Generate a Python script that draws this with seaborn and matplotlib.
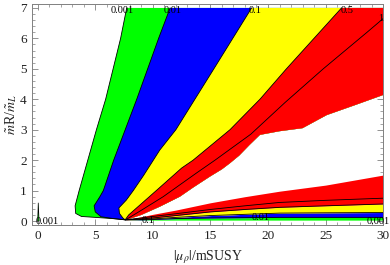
import numpy as np
import pandas as pd
import seaborn as sns
import matplotlib.pyplot as plt

# upper wedge contours (x = |mu_rho|/mSUSY, y = mR/mL)
c0001_x = [7.58, 6.5, 5.0, 3.8, 3.3, 3.25, 3.6, 4.35, 5.1, 5.9, 6.55, 7.2, 7.73]
c0001_y = [0.04, 0.08, 0.12, 0.15, 0.25, 0.5, 1.0, 2.0, 3.0, 4.0, 5.0, 6.0, 7.0]
c001_x = [7.58, 6.6, 5.5, 5.0, 4.9, 5.4, 5.7, 6.6, 7.6, 8.6, 9.55, 10.5, 11.5]
c001_y = [0.04, 0.08, 0.14, 0.3, 0.5, 0.8, 1.0, 2.0, 3.0, 4.0, 5.0, 6.0, 7.0]
c01_x = [7.58, 7.4, 7.1, 7.05, 7.7, 8.3, 9.2, 10.6, 12.0, 15.3, 18.58]
c01_y = [0.04, 0.1, 0.25, 0.43, 0.69, 1.0, 1.5, 2.33, 3.0, 5.0, 7.0]
c05_x = [7.6, 7.9, 8.8, 10.3, 12.5, 13.5, 16.7, 19.3, 21.6, 26.39]
c05_y = [0.04, 0.2, 0.5, 1.0, 1.74, 2.0, 3.0, 4.0, 5.0, 7.0]
c1_x = [7.6, 7.9, 9.2, 10.9, 13.8, 15.4, 18.5, 21.5, 24.8, 28.6, 30.0]
c1_y = [0.04, 0.1, 0.4, 0.8, 1.58, 2.0, 2.85, 3.9, 5.0, 6.2, 6.65]
# ragged lower edge of the upper red band
edge_x = [7.8, 9.0, 10.6, 12.35, 13.5, 14.96, 16.0, 16.7, 17.5, 18.4, 19.3, 21.0, 23.0, 25.1, 27.5, 30.0]
edge_y = [0.05, 0.2, 0.47, 0.8, 1.1, 1.46, 1.7, 1.9, 2.15, 2.5, 2.83, 2.95, 3.05, 3.48, 3.8, 4.14]

# lower bands
low_x = [7.6, 9.0, 10.0, 12.0, 15.0, 18.0, 21.0, 25.0, 30.0]
low_bottom = [0.04, 0.03, 0.03, 0.03, 0.03, 0.03, 0.03, 0.03, 0.03]
low_001 = [0.04, 0.04, 0.05, 0.08, 0.10, 0.11, 0.12, 0.12, 0.12]
low_01 = [0.04, 0.05, 0.07, 0.12, 0.18, 0.22, 0.26, 0.27, 0.28]
low_05 = [0.04, 0.07, 0.10, 0.18, 0.30, 0.38, 0.45, 0.50, 0.56]
low_1 = [0.04, 0.10, 0.15, 0.24, 0.38, 0.50, 0.61, 0.68, 0.75]
low_top = [0.04, 0.14, 0.22, 0.36, 0.60, 0.80, 0.98, 1.18, 1.51]

# small sliver near the origin
sliver_x = [0.0, 0.12, 0.05, 0.0]
sliver_y = [0.0, 0.0, 0.6, 0.0]

labels = [("0.001", 7.3, 6.93), ("0.01", 11.7, 6.93), ("0.1", 18.9, 6.93),
          ("0.5", 26.9, 6.93), ("1", 29.8, 6.65), ("0.001", 0.8, 0.0),
          ("0.1", 9.6, 0.03), ("0.01", 19.4, 0.1), ("0.001", 29.6, 0.0)]

sns.set_style("ticks")
plt.rcParams['font.family'] = ['Liberation Serif', 'DejaVu Serif']
plt.rcParams['mathtext.fontset'] = 'stix'

fig = plt.figure(figsize=(3.9, 2.65), dpi=100)
ax = fig.add_axes([0.0813, 0.151, 0.9017, 0.834])

# upper wedge, painted from the outside in
close_x = [30.0, 30.0] + edge_x[::-1]
close_y = [7.0, edge_y[-1]] + edge_y[::-1]
for cx, cy, col in [(c0001_x, c0001_y, "#00ff00"), (c001_x, c001_y, "#0000ff"),
                    (c01_x, c01_y, "#ffff00"), (c05_x, c05_y, "#ff0000")]:
    ax.fill(cx + close_x, cy + close_y, color=col, lw=0)

# lower bands
ax.fill_between(low_x, low_bottom, low_001, color="#00ff00", lw=0)
ax.fill_between(low_x, low_001, low_01, color="#0000ff", lw=0)
ax.fill_between(low_x, low_01, low_05, color="#ffff00", lw=0)
ax.fill_between(low_x, low_05, low_top, color="#ff0000", lw=0)
ax.fill(sliver_x, sliver_y, color="#00ff00", lw=0.5, ec="k")

# contour lines
for cx, cy in [(c0001_x, c0001_y), (c001_x, c001_y), (c01_x, c01_y), (c05_x, c05_y),
               (c1_x, c1_y), (low_x, low_001), (low_x, low_01), (low_x, low_05),
               (low_x, low_1)]:
    sns.lineplot(x=cx, y=cy, sort=False, estimator=None, color="k", lw=0.6, ax=ax)

for txt, lx, ly in labels:
    ax.text(lx, ly, txt, fontsize=7.5, ha="center", va="center", color="k")

ax.set_xlim(-0.52, 30.02)
ax.set_ylim(-0.13, 7.13)
ax.set_xticks([0, 5, 10, 15, 20, 25, 30])
ax.set_yticks(range(8))
ax.set_xticks(np.arange(0, 31, 1), minor=True)
ax.set_yticks(np.arange(0, 7.01, 0.2), minor=True)
ax.tick_params(which="both", direction="in", top=True, right=True, color="#808080",
               labelsize=9.5, labelcolor="#222222")
ax.tick_params(which="major", length=4, width=0.6)
ax.tick_params(which="minor", length=2, width=0.5)
for s in ax.spines.values():
    s.set_color("#808080")
    s.set_linewidth(0.7)

ax.set_xlabel(r"$|\mu_\rho|$/mSUSY", fontsize=10, color="#222222", labelpad=5)
ax.set_ylabel(r"$\tilde{m}$R/$\tilde{m}_L$", fontsize=10, color="#222222", labelpad=1)

fig.savefig("out.png", dpi=100)
